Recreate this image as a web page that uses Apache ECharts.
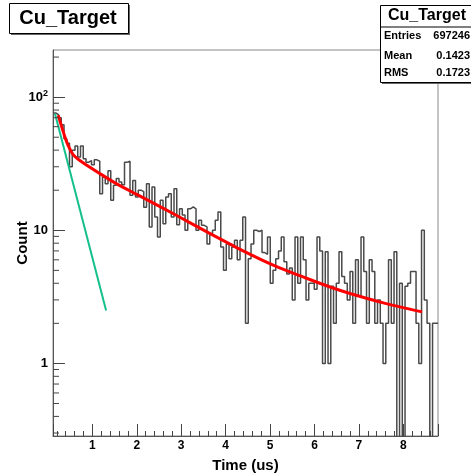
<!DOCTYPE html>
<html>
<head>
<meta charset="utf-8">
<script src="https://cdn.jsdelivr.net/npm/echarts@6/dist/echarts.min.js"></script>
<style>
html,body{margin:0;padding:0;background:#fff;}
#chart{width:471px;height:476px;}
</style>
</head>
<body>
<div id="chart"></div>
<script>
// ---------- data ----------
const titleText = 'Cu_Target';
const statsLabels = ['Entries', 'Mean', 'RMS'];
const statsValues = ['697246', '0.1423', '0.1723'];

const xMin = 0.115, xMax = 8.78;      // Time (us)
const yMin = 0.285, yMax = 226;       // Count (log)
const binStart = 0.115;
const binWidth = 0.0619;
const counts = [
  76, 74, 70, 62, 48.6, 45, 30, 40, 43, 35.5,
  43, 34.5, 32.5, 33.4, 31, 33.8, 33, 18.8, 25, 22.4,
  28, 16.8, 21.8, 24.5, 23, 22, 32.5, 33, 18.3, 23.7,
  17.8, 20, 19.5, 14.9, 22.4, 10.6, 21.1, 12.6, 8.9, 16.8,
  11.2, 17.8, 18.8, 12.6, 20.5, 11, 14.5, 13, 10, 14.5,
  15, 14.5, 10, 11.9, 10.9, 10.6, 7.9, 9.4, 10, 11.9,
  13.7, 7.5, 5.0, 7.9, 6.1, 7.5, 8.4, 6.0, 8.4, 12.6,
  2.0, 6.1, 7.9, 10, 9.8, 10, 6.8, 6.6, 8.9, 4.0,
  5.0, 6.1, 7.0, 8.9, 5.8, 4.7, 5.2, 3.0, 8.9, 4.0,
  8.9, 6.0, 3.0, 4.0, 4.0, 3.6, 8.9, 7.0, 1.0, 6.9,
  1.0, 3.8, 2.0, 4.0, 6.9, 4.5, 4.0, 3.0, 4.9, 2.0,
  6.0, 3.2, 8.9, 4.9, 2.0, 6.0, 4.9, 2.0, 3.0, 2.0,
  1.0, 2.0, 6.0, 2.0, 6.9, 0, 4.0, 0, 3.8, 4.0,
  4.9, 4.9, 2.0, 1.0, 10.0, 3.0, 2.0, 0, 2.0, 2.0
];

// total fit (red)
const fitT = [0.234, 0.31, 0.385, 0.46, 0.57, 0.8, 1.2, 1.55, 2.0, 2.3, 2.92, 3.61, 4.36, 5.11, 5.79, 6.4, 6.8, 7.55, 8.42];
const fitV = [73, 60, 50, 43, 37, 32, 26.3, 22.3, 18.6, 16.5, 12.8, 9.6, 7.1, 5.4, 4.4, 3.7, 3.35, 2.85, 2.44];
// fast component (green)
const fastT = [0.16, 1.31];
const fastV = [75, 2.5];

const yMajorTicks = [1, 10, 100];
const yMinorTicks = [0.3, 0.4, 0.5, 0.6, 0.7, 0.8, 0.9, 2, 3, 4, 5, 6, 7, 8, 9, 20, 30, 40, 50, 60, 70, 80, 90, 200];

// ---------- build ----------
const FONT = "'Liberation Sans', Arial, Helvetica, sans-serif";
const floorVal = yMin * 1e-3; // empty bins go to the bottom (clipped)
const histPts = counts.map((c, i) => [binStart + i * binWidth, c > 0 ? c : floorVal]);
histPts.push([binStart + counts.length * binWidth, counts[counts.length - 1] > 0 ? counts[counts.length - 1] : floorVal]);

const chart = echarts.init(document.getElementById('chart'), null, {renderer: 'canvas'});

const option = {
  backgroundColor: '#fff',
  animation: false,
  grid: {left: 53, top: 50, right: 33, bottom: 40, show: true, borderColor: '#8a8a8a', borderWidth: 1, backgroundColor: '#fff',
    containLabel: false, outerBoundsMode: 'none'},
  xAxis: {
    type: 'value', min: xMin, max: xMax, splitNumber: 8,
    name: 'Time (us)', nameLocation: 'middle', nameGap: 22, nameMoveOverlap: false,
    nameTextStyle: {fontFamily: FONT, fontWeight: 'bold', fontSize: 15, color: '#000'},
    axisLine: {show: true, onZero: false, lineStyle: {color: '#555', width: 1}},
    axisTick: {show: true, inside: true, length: 12, lineStyle: {color: '#444'}},
    minorTick: {show: true, splitNumber: 5, length: 5, lineStyle: {color: '#444'}},
    axisLabel: {margin: 4, showMinLabel: false, showMaxLabel: false, fontFamily: FONT, fontWeight: 'bold', fontSize: 12, color: '#000',
      formatter: v => (Math.abs(v - Math.round(v)) < 1e-6 ? String(Math.round(v)) : '')},
    splitLine: {show: false}
  },
  yAxis: {
    type: 'log', logBase: 10, min: yMin, max: yMax,
    name: 'Count', nameLocation: 'middle', nameGap: 23, nameMoveOverlap: false,
    nameTextStyle: {fontFamily: FONT, fontWeight: 'bold', fontSize: 15, color: '#000'},
    axisLine: {show: true, lineStyle: {color: '#555', width: 1}},
    axisTick: {show: true, inside: true, length: 12, lineStyle: {color: '#444'}},
    axisLabel: {margin: 5, showMinLabel: false, showMaxLabel: false, color: '#000',
      formatter: v => {
        const r = yMajorTicks.find(t => Math.abs(t - v) / t < 1e-6);
        if (r === undefined) return '';
        if (r === 100) return '{b|10}{s|2}';
        return '{b|' + r + '}';
      },
      rich: {
        b: {fontFamily: FONT, fontWeight: 'bold', fontSize: 13, color: '#000'},
        s: {fontFamily: FONT, fontWeight: 'bold', fontSize: 9, color: '#000', padding: [0, 0, 8, 0]}
      }
    },
    splitLine: {show: false}
  },
  series: [
    {
      type: 'line', step: 'end', data: histPts, symbol: 'none', clip: true,
      lineStyle: {color: '#4a4a4a', width: 1.5}, z: 2
    },
    {
      type: 'line', data: fastT.map((t, i) => [t, fastV[i]]), symbol: 'none', clip: true,
      lineStyle: {color: '#14c08c', width: 2}, z: 3
    },
    {
      type: 'line', data: fitT.map((t, i) => [t, fitV[i]]), symbol: 'none', clip: true,
      smooth: 0.25,
      lineStyle: {color: '#ff0000', width: 3}, z: 4
    },
    {
      type: 'custom', coordinateSystem: 'cartesian2d', silent: true, z: 5,
      data: yMinorTicks.map(v => [xMin, v]),
      renderItem: (params, api) => {
        const p = api.coord([api.value(0), api.value(1)]);
        return {type: 'line', shape: {x1: p[0], y1: p[1], x2: p[0] + 6, y2: p[1]}, style: {stroke: '#444', lineWidth: 1}};
      }
    }
  ],
  graphic: [
    // title box
    {type: 'rect', left: 11, top: 5, shape: {width: 119, height: 30}, style: {fill: '#666'}, z: 10},
    {type: 'rect', left: 9, top: 3, shape: {width: 119, height: 30}, style: {fill: '#fff', stroke: '#000', lineWidth: 1}, z: 11},
    {type: 'text', x: 68, y: 18, style: {text: titleText, fontFamily: FONT, fontWeight: 'bold', fontSize: 20, fill: '#000', align: 'center', verticalAlign: 'middle'}, z: 12},
    // stats box
    {type: 'rect', left: 382, top: 7, shape: {width: 100, height: 77}, style: {fill: '#666'}, z: 10},
    {type: 'rect', left: 380, top: 5, shape: {width: 100, height: 77}, style: {fill: '#fff', stroke: '#000', lineWidth: 1}, z: 11},
    {type: 'line', shape: {x1: 380, y1: 27, x2: 480, y2: 27}, style: {stroke: '#000', lineWidth: 1}, z: 12},
    {type: 'text', x: 427, y: 16, style: {text: titleText, fontFamily: FONT, fontWeight: 'bold', fontSize: 16, fill: '#000', align: 'center', verticalAlign: 'middle'}, z: 12},
    ...statsLabels.map((l, i) => ({type: 'text', x: 384, y: [36, 55.5, 73][i], style: {text: l, fontFamily: FONT, fontWeight: 'bold', fontSize: 11, fill: '#000', align: 'left', verticalAlign: 'middle'}, z: 12})),
    ...statsValues.map((v, i) => ({type: 'text', x: 470, y: [36, 55.5, 73][i], style: {text: v, fontFamily: FONT, fontWeight: 'bold', fontSize: 11, fill: '#000', align: 'right', verticalAlign: 'middle'}, z: 12}))
  ]
};
chart.setOption(option);
</script>
</body>
</html>
